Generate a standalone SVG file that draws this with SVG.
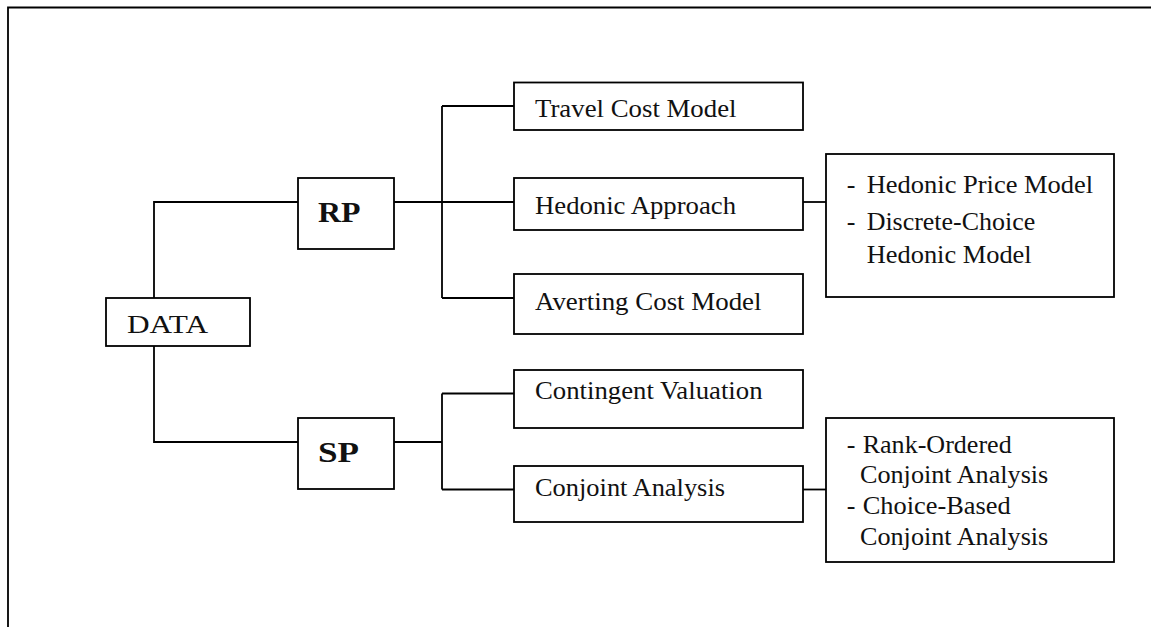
<svg xmlns="http://www.w3.org/2000/svg" width="1151" height="627" viewBox="0 0 1151 627">
  <style>
    .box { fill: #ffffff; stroke: #000000; stroke-width: 1.8; }
    .link { fill: none; stroke: #000000; stroke-width: 1.8; }
    .frame { fill: none; stroke: #000000; stroke-width: 1.8; }
    .lbl { font-family: "Liberation Serif", "Times New Roman", serif; font-size: 26px; fill: #111111; }
    .head { font-family: "Liberation Serif", "Times New Roman", serif; font-size: 30px; font-weight: bold; fill: #111111; }
  </style>
  <rect width="1151" height="627" fill="#ffffff"/>

  <!-- outer frame (only top and left edges are visible) -->
  <path class="frame" d="M8,627 V7.5 H1151"/>

  <!-- connectors -->
  <g id="connectors">
    <path class="link" d="M154,298 V202 H298"/>
    <path class="link" d="M154,346 V442 H298"/>
    <path class="link" d="M394,202 H514"/>
    <path class="link" d="M442,106 V298"/>
    <path class="link" d="M442,106 H514"/>
    <path class="link" d="M442,298 H514"/>
    <path class="link" d="M803,202 H826"/>
    <path class="link" d="M394,442 H442"/>
    <path class="link" d="M442,393.5 V489.5"/>
    <path class="link" d="M442,393.5 H514"/>
    <path class="link" d="M442,489.5 H514"/>
    <path class="link" d="M803,489.5 H826"/>
  </g>

  <g id="data">
    <rect class="box" x="106" y="298" width="144" height="48"/>
    <text class="lbl" x="127" y="333.3" font-size="28" textLength="81" lengthAdjust="spacingAndGlyphs">DATA</text>
  </g>

  <g id="rp">
    <rect class="box" x="298" y="178" width="96" height="71"/>
    <text class="head" x="318" y="221.7" textLength="42.5" lengthAdjust="spacingAndGlyphs">RP</text>
  </g>

  <g id="sp">
    <rect class="box" x="298" y="418" width="96" height="71"/>
    <text class="head" x="318" y="462.3" textLength="41" lengthAdjust="spacingAndGlyphs">SP</text>
  </g>

  <g id="travel-cost">
    <rect class="box" x="514" y="82.5" width="289" height="47.5"/>
    <text class="lbl" x="535" y="117.3" textLength="201.5" lengthAdjust="spacingAndGlyphs">Travel Cost Model</text>
  </g>

  <g id="hedonic">
    <rect class="box" x="514" y="178" width="289" height="52"/>
    <text class="lbl" x="535" y="214" textLength="201" lengthAdjust="spacingAndGlyphs">Hedonic Approach</text>
  </g>

  <g id="averting-cost">
    <rect class="box" x="514" y="274" width="289" height="60"/>
    <text class="lbl" x="535" y="310" textLength="226.5" lengthAdjust="spacingAndGlyphs">Averting Cost Model</text>
  </g>

  <g id="hedonic-models">
    <rect class="box" x="826" y="154" width="288" height="143"/>
    <text class="lbl" x="846.7" y="193.3">-</text>
    <text class="lbl" x="866.7" y="193.3" textLength="226.5" lengthAdjust="spacingAndGlyphs">Hedonic Price Model</text>
    <text class="lbl" x="846.7" y="230">-</text>
    <text class="lbl" x="866.7" y="230" textLength="168.5" lengthAdjust="spacingAndGlyphs">Discrete-Choice</text>
    <text class="lbl" x="866.7" y="263.3" textLength="165" lengthAdjust="spacingAndGlyphs">Hedonic Model</text>
  </g>

  <g id="contingent">
    <rect class="box" x="514" y="370" width="289" height="58"/>
    <text class="lbl" x="535" y="399" textLength="227.5" lengthAdjust="spacingAndGlyphs">Contingent Valuation</text>
  </g>

  <g id="conjoint">
    <rect class="box" x="514" y="466" width="289" height="56"/>
    <text class="lbl" x="535" y="495.7" textLength="190" lengthAdjust="spacingAndGlyphs">Conjoint Analysis</text>
  </g>

  <g id="conjoint-models">
    <rect class="box" x="826" y="418" width="288" height="144"/>
    <text class="lbl" x="846.7" y="453.3">-</text>
    <text class="lbl" x="862.7" y="453.3" textLength="149" lengthAdjust="spacingAndGlyphs">Rank-Ordered</text>
    <text class="lbl" x="860" y="483.3" textLength="188.3" lengthAdjust="spacingAndGlyphs">Conjoint Analysis</text>
    <text class="lbl" x="846.7" y="514">-</text>
    <text class="lbl" x="862.7" y="514" textLength="148" lengthAdjust="spacingAndGlyphs">Choice-Based</text>
    <text class="lbl" x="860" y="545" textLength="188.3" lengthAdjust="spacingAndGlyphs">Conjoint Analysis</text>
  </g>
</svg>
